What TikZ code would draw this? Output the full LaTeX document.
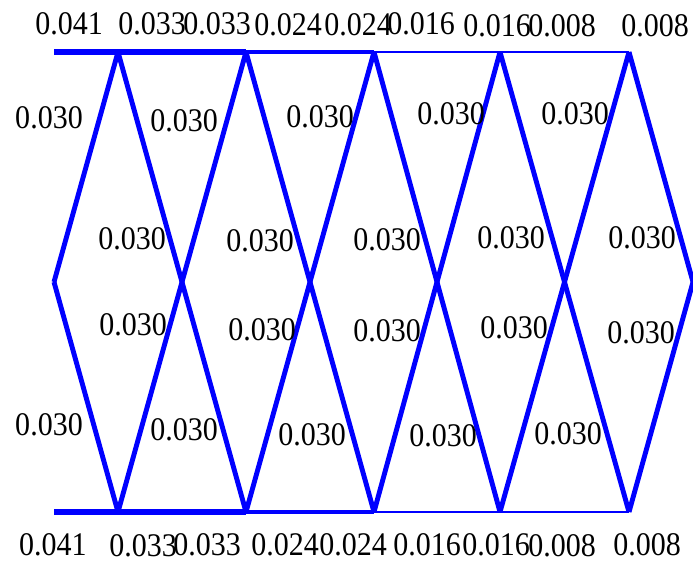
\documentclass[tikz,border=0pt]{standalone}
\usepackage{graphicx}
\usepackage{fontspec}
\setmainfont{Liberation Serif}
\newcommand{\tallnum}[1]{\scalebox{1}[1.1]{#1}}
\begin{document}
\begin{tikzpicture}[x=1pt,y=-1pt,
  lbl/.style={inner sep=0pt, font=\fontsize{30}{32}\selectfont},
  mem/.style={draw=blue, line cap=butt, line join=miter},
  wA/.style={mem, line width=6.7pt},
  wB/.style={mem, line width=5.4pt},
  wC/.style={mem, line width=3.9pt},
  wD/.style={mem, line width=2.6pt},
  wE/.style={mem, line width=1.3pt},
  wdiag/.style={mem, line width=4.9pt},
]
\useasboundingbox (0,0) rectangle (693,563);
% joints
\coordinate (L) at (54,282);
\coordinate (R) at (693,282);
\coordinate (T0) at (54,52);
\coordinate (B0) at (54,512);
\foreach \n/\x in {1/118,2/246,3/374,4/500,5/629}{
  \coordinate (T\n) at (\x,52);
  \coordinate (B\n) at (\x,512);
}
\foreach \n/\x in {1/182,2/310,3/437,4/565}{
  \coordinate (C\n) at (\x,52);
  \coordinate (D\n) at (\x,512);
  \coordinate (M\n) at (\x,282);
}
% chords
\foreach \a/\b in {T/C,B/D}{
  \draw[wA] (\a0) -- (\a1);
  \draw[wB] (\a1) -- (\b1); \draw[wB] (\b1) -- (\a2);
  \draw[wC] (\a2) -- (\b2); \draw[wC] (\b2) -- (\a3);
  \draw[wD] (\a3) -- (\b3); \draw[wD] (\b3) -- (\a4);
  \draw[wE] (\a4) -- (\b4); \draw[wE] (\b4) -- (\a5);
}
% diagonals
\draw[wdiag] (L) -- (T1); \draw[wdiag] (L) -- (B1);
\draw[wdiag] (T1) -- (B2); \draw[wdiag] (B1) -- (T2);
\draw[wdiag] (T2) -- (B3); \draw[wdiag] (B2) -- (T3);
\draw[wdiag] (T3) -- (B4); \draw[wdiag] (B3) -- (T4);
\draw[wdiag] (T4) -- (B5); \draw[wdiag] (B4) -- (T5);
\draw[wdiag] (T5) -- (R); \draw[wdiag] (B5) -- (R);
% chord labels
\node[lbl] (tl1) at (69,24) {\tallnum{0.041}};
\node[lbl] (tl2) at (152,24) {\tallnum{0.033}};
\node[lbl] (tl3) at (217,24) {\tallnum{0.033}};
\node[lbl] (tl4) at (288,25) {\tallnum{0.024}};
\node[lbl] (tl5) at (358,25) {\tallnum{0.024}};
\node[lbl] (tl6) at (421,24) {\tallnum{0.016}};
\node[lbl] (tl7) at (497,26) {\tallnum{0.016}};
\node[lbl] (tl8) at (562,26) {\tallnum{0.008}};
\node[lbl] (tl9) at (655,26) {\tallnum{0.008}};
\node[lbl] (bl1) at (53,545) {\tallnum{0.041}};
\node[lbl] (bl2) at (143,546) {\tallnum{0.033}};
\node[lbl] (bl3) at (207,545) {\tallnum{0.033}};
\node[lbl] (bl4) at (285,545) {\tallnum{0.024}};
\node[lbl] (bl5) at (353,545) {\tallnum{0.024}};
\node[lbl] (bl6) at (427,545) {\tallnum{0.016}};
\node[lbl] (bl7) at (496,545) {\tallnum{0.016}};
\node[lbl] (bl8) at (562,546) {\tallnum{0.008}};
\node[lbl] (bl9) at (647,545) {\tallnum{0.008}};
% diagonal labels
\node[lbl] (d11) at (49,118) {\tallnum{0.030}};
\node[lbl] (d12) at (184,121) {\tallnum{0.030}};
\node[lbl] (d13) at (320,117) {\tallnum{0.030}};
\node[lbl] (d14) at (451,114) {\tallnum{0.030}};
\node[lbl] (d15) at (575,114) {\tallnum{0.030}};
\node[lbl] (d21) at (132,239) {\tallnum{0.030}};
\node[lbl] (d22) at (260,241) {\tallnum{0.030}};
\node[lbl] (d23) at (387,240) {\tallnum{0.030}};
\node[lbl] (d24) at (511,238) {\tallnum{0.030}};
\node[lbl] (d25) at (642,238) {\tallnum{0.030}};
\node[lbl] (d31) at (133,325) {\tallnum{0.030}};
\node[lbl] (d32) at (262,330) {\tallnum{0.030}};
\node[lbl] (d33) at (387,331) {\tallnum{0.030}};
\node[lbl] (d34) at (514,328) {\tallnum{0.030}};
\node[lbl] (d35) at (641,333) {\tallnum{0.030}};
\node[lbl] (d41) at (49,425) {\tallnum{0.030}};
\node[lbl] (d42) at (184,430) {\tallnum{0.030}};
\node[lbl] (d43) at (312,435) {\tallnum{0.030}};
\node[lbl] (d44) at (443,436) {\tallnum{0.030}};
\node[lbl] (d45) at (568,434) {\tallnum{0.030}};
\end{tikzpicture}
\end{document}
